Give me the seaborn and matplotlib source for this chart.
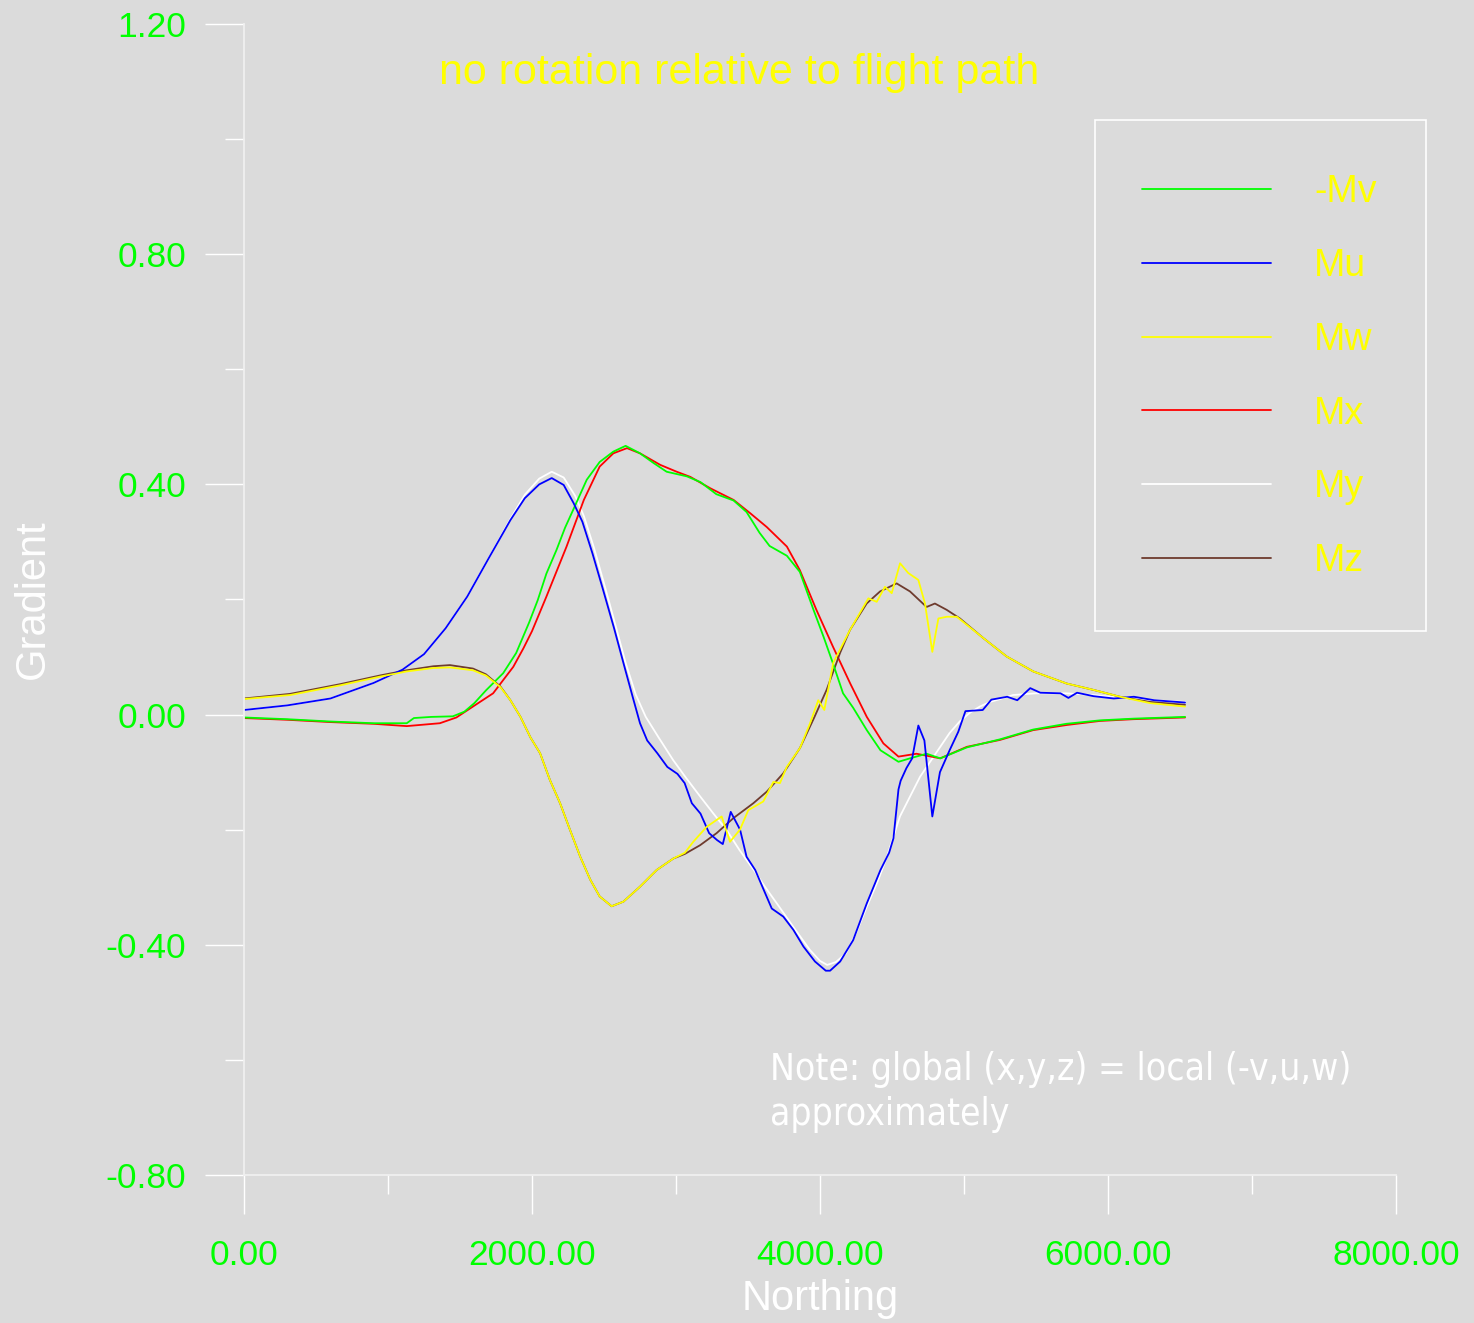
import matplotlib
matplotlib.use("Agg")
import matplotlib.pyplot as plt
from matplotlib.patches import Rectangle
from matplotlib.ticker import MultipleLocator, FormatStrFormatter
import pandas as pd
import seaborn as sns

# ---- gradient components along the flight line (Northing in m) ----
northing_mu = [0, 300, 600, 900, 1100, 1250, 1400, 1550, 1700, 1850, 1950, 2050, 2137,
               2220, 2290, 2350, 2420, 2490, 2570, 2640, 2700, 2750, 2800, 2870, 2940,
               3010, 3060, 3110, 3170, 3230, 3285, 3325, 3380, 3445, 3490, 3550, 3610,
               3665, 3745, 3815, 3885, 3965, 4040, 4070, 4140, 4230, 4325, 4420, 4480,
               4510, 4545, 4560, 4600, 4640, 4683, 4725, 4780, 4833, 4900, 4960, 5010,
               5130, 5190, 5300, 5370, 5460, 5530, 5670, 5725, 5785, 5900, 6040, 6180,
               6320, 6535]
mu = [0.008, 0.016, 0.028, 0.055, 0.078, 0.105, 0.150, 0.205, 0.272, 0.338, 0.376, 0.400,
      0.411, 0.399, 0.367, 0.335, 0.280, 0.220, 0.150, 0.085, 0.030, -0.015, -0.045,
      -0.067, -0.091, -0.103, -0.119, -0.154, -0.172, -0.206, -0.218, -0.225, -0.169,
      -0.200, -0.247, -0.270, -0.305, -0.337, -0.351, -0.374, -0.403, -0.429, -0.445,
      -0.445, -0.429, -0.392, -0.328, -0.270, -0.240, -0.215, -0.130, -0.115, -0.093,
      -0.076, -0.019, -0.045, -0.177, -0.100, -0.062, -0.030, 0.006, 0.008, 0.026,
      0.031, 0.025, 0.046, 0.038, 0.037, 0.029, 0.038, 0.032, 0.028, 0.031, 0.025, 0.021]

northing_my = [0, 300, 600, 900, 1100, 1250, 1400, 1550, 1700, 1850, 1950, 2050, 2137,
               2220, 2300, 2360, 2430, 2500, 2580, 2650, 2720, 2790, 2880, 2980, 3070,
               3170, 3260, 3350, 3440, 3540, 3620, 3700, 3815, 3930, 4000, 4050, 4110,
               4180, 4250, 4325, 4400, 4465, 4555, 4630, 4695, 4770, 4835, 4900, 4970,
               5040, 5110, 5180, 5250, 5340, 5500, 5710, 5900, 6100, 6300, 6535]
my = [0.008, 0.016, 0.028, 0.055, 0.078, 0.105, 0.150, 0.205, 0.272, 0.340, 0.382, 0.410,
      0.422, 0.412, 0.380, 0.345, 0.290, 0.228, 0.155, 0.090, 0.035, -0.004, -0.040,
      -0.079, -0.110, -0.143, -0.172, -0.200, -0.235, -0.270, -0.300, -0.328, -0.369,
      -0.409, -0.428, -0.435, -0.430, -0.415, -0.380, -0.334, -0.290, -0.247, -0.177,
      -0.140, -0.108, -0.080, -0.056, -0.032, -0.012, 0.003, 0.014, 0.022, 0.027, 0.034,
      0.037, 0.037, 0.034, 0.029, 0.025, 0.022]

northing_mv = [0, 300, 600, 900, 1130, 1180, 1300, 1450, 1530, 1600, 1680, 1800, 1890,
               1980, 2040, 2100, 2170, 2230, 2290, 2380, 2470, 2565, 2650, 2750, 2845,
               2935, 3075, 3170, 3280, 3400, 3490, 3580, 3650, 3770, 3860, 3955, 4025,
               4090, 4160, 4230, 4325, 4420, 4545, 4625, 4740, 4835, 5020, 5250, 5480,
               5710, 5945, 6180, 6535]
minus_mv = [-0.005, -0.008, -0.012, -0.015, -0.015, -0.006, -0.004, -0.003, 0.005, 0.020,
            0.042, 0.072, 0.107, 0.160, 0.199, 0.245, 0.286, 0.325, 0.358, 0.408, 0.439,
            0.457, 0.467, 0.454, 0.437, 0.422, 0.414, 0.404, 0.383, 0.372, 0.352, 0.316,
            0.293, 0.276, 0.248, 0.182, 0.135, 0.089, 0.037, 0.012, -0.027, -0.062,
            -0.082, -0.076, -0.068, -0.076, -0.057, -0.043, -0.026, -0.016, -0.010,
            -0.007, -0.004]

northing_mx = [0, 300, 600, 900, 1130, 1360, 1475, 1590, 1730, 1870, 1940, 2000, 2100,
               2240, 2360, 2470, 2565, 2660, 2750, 2890, 3005, 3100, 3240, 3400, 3515,
               3630, 3770, 3860, 3975, 4090, 4210, 4325, 4440, 4545, 4670, 4835, 5020,
               5250, 5480, 5715, 5945, 6175, 6535]
mx = [-0.006, -0.009, -0.013, -0.016, -0.020, -0.015, -0.005, 0.014, 0.037, 0.083, 0.115,
      0.145, 0.205, 0.292, 0.373, 0.431, 0.454, 0.463, 0.454, 0.434, 0.422, 0.413, 0.393,
      0.373, 0.350, 0.326, 0.292, 0.251, 0.182, 0.118, 0.054, -0.004, -0.050, -0.073,
      -0.068, -0.076, -0.056, -0.044, -0.027, -0.018, -0.011, -0.008, -0.005]

northing_mw = [0, 320, 670, 945, 1130, 1315, 1430, 1590, 1680, 1780, 1850, 1920, 1990,
               2056, 2125, 2195, 2265, 2335, 2405, 2470, 2553, 2635, 2750, 2866, 2982,
               3062, 3120, 3213, 3317, 3375, 3444, 3502, 3606, 3676, 3722, 3769, 3861,
               3931, 3988, 4030, 4092, 4208, 4336, 4394, 4451, 4498, 4556, 4613, 4683,
               4729, 4780, 4822, 4880, 4950, 5134, 5296, 5481, 5713, 5898, 6083, 6292,
               6535]
mw = [0.027, 0.034, 0.051, 0.066, 0.075, 0.081, 0.082, 0.077, 0.068, 0.048, 0.025, -0.004,
      -0.040, -0.067, -0.114, -0.154, -0.201, -0.247, -0.287, -0.316, -0.333, -0.325,
      -0.299, -0.270, -0.250, -0.240, -0.221, -0.195, -0.177, -0.221, -0.200, -0.166,
      -0.151, -0.117, -0.119, -0.091, -0.058, -0.015, 0.025, 0.008, 0.090, 0.147, 0.202,
      0.196, 0.222, 0.211, 0.263, 0.246, 0.234, 0.193, 0.109, 0.167, 0.170, 0.170, 0.133,
      0.101, 0.075, 0.054, 0.043, 0.031, 0.020, 0.014]

northing_mz = [0, 320, 670, 945, 1130, 1315, 1430, 1590, 1680, 1780, 1850, 1920, 1990,
               2056, 2125, 2195, 2265, 2335, 2405, 2470, 2553, 2635, 2750, 2866, 2982,
               3062, 3167, 3282, 3398, 3537, 3630, 3745, 3861, 3960, 4046, 4139, 4208,
               4324, 4417, 4532, 4625, 4740, 4798, 4880, 4972, 5134, 5296, 5481, 5713,
               5898, 6083, 6292, 6535]
mz = [0.028, 0.036, 0.053, 0.068, 0.077, 0.084, 0.086, 0.080, 0.070, 0.049, 0.025, -0.004,
      -0.040, -0.067, -0.114, -0.154, -0.201, -0.247, -0.287, -0.316, -0.333, -0.325,
      -0.299, -0.270, -0.250, -0.242, -0.227, -0.206, -0.180, -0.154, -0.134, -0.102,
      -0.058, -0.005, 0.043, 0.107, 0.147, 0.193, 0.214, 0.228, 0.214, 0.187, 0.193,
      0.182, 0.167, 0.133, 0.101, 0.075, 0.054, 0.043, 0.031, 0.022, 0.017]

legend_order = ["-Mv", "Mu", "Mw", "Mx", "My", "Mz"]
x_ticks = [0, 2000, 4000, 6000, 8000]
y_ticks = [-0.80, -0.40, 0.00, 0.40, 0.80, 1.20]

BG = "#dbdbdb"
TICK_GREEN = "#00ff00"
palette = {"-Mv": "#00ff00", "Mu": "#0000ff", "Mw": "#ffff00",
           "Mx": "#ff0000", "My": "#ffffff", "Mz": "#6e3b2e"}

series = {"-Mv": (northing_mv, minus_mv), "Mu": (northing_mu, mu),
          "Mw": (northing_mw, mw), "Mx": (northing_mx, mx),
          "My": (northing_my, my), "Mz": (northing_mz, mz)}
df = pd.concat(
    [pd.DataFrame({"Northing": x, "Gradient": y, "component": name})
     for name, (x, y) in series.items()],
    ignore_index=True)

sns.set_style("white", {"axes.facecolor": BG, "figure.facecolor": BG,
                        "xtick.bottom": True, "ytick.left": True})
plt.rcParams["font.family"] = ["Liberation Sans", "DejaVu Sans"]

fig = plt.figure(figsize=(14.74, 13.23), dpi=100, facecolor=BG)
ax = fig.add_axes([244 / 1474, 1 - 1175 / 1323, 1152 / 1474, 1151 / 1323])
ax.set_facecolor(BG)

draw_order = ["My", "Mx", "Mz", "-Mv", "Mu", "Mw"]
for name in draw_order:
    sns.lineplot(data=df[df["component"] == name], x="Northing", y="Gradient",
                 color=palette[name], linewidth=1.3, sort=False, estimator=None,
                 label=name, ax=ax)

ax.set_xlim(0, 8000)
ax.set_ylim(-0.8, 1.2)
ax.set_xticks(x_ticks)
ax.set_yticks(y_ticks)
ax.xaxis.set_minor_locator(MultipleLocator(1000))
ax.yaxis.set_minor_locator(MultipleLocator(0.2))
ax.xaxis.set_major_formatter(FormatStrFormatter("%.2f"))
ax.yaxis.set_major_formatter(FormatStrFormatter("%.2f"))

for side in ("top", "right"):
    ax.spines[side].set_visible(False)
for side in ("left", "bottom"):
    ax.spines[side].set_color("#f0f0f0")
    ax.spines[side].set_linewidth(1.3)

ax.tick_params(which="both", bottom=True, left=True, top=False, right=False,
               direction="out", color="white", width=1,
               labelcolor=TICK_GREEN, labelsize=25.5)
ax.tick_params(which="major", length=28)
ax.tick_params(which="minor", length=14)
ax.tick_params(axis="y", which="major", pad=13.5)
ax.tick_params(axis="x", which="major", pad=18)

ax.set_xlabel("Northing", color="white", fontsize=30, labelpad=5)
ax.set_ylabel("Gradient", color="white", fontsize=30, labelpad=38)

ax.text(0.4297, 0.9574, "no rotation relative to flight path", color="#ffff00",
        fontsize=31, ha="center", va="center", transform=ax.transAxes)
ax.text(0.4566, 0.108, "Note: global (x,y,z) = local (-v,u,w)\napproximately",
        color="white", fontsize=26.7, ha="left", va="top", linespacing=1.29,
        family="DejaVu Sans", fontstretch="condensed", transform=ax.transAxes)

handles, labels = ax.get_legend_handles_labels()
lookup = dict(zip(labels, handles))
leg = ax.legend([lookup[n] for n in legend_order], legend_order,
                loc="upper right", bbox_to_anchor=(1.030, 0.9166), borderaxespad=0,
                fontsize=27, handlelength=3.44, handletextpad=1.15, labelspacing=1.01,
                borderpad=1.44, frameon=False)
for t in leg.get_texts():
    t.set_color("#ffff00")

# legend frame
fig.patches.append(Rectangle((1095 / 1474, 1 - 631 / 1323), 331 / 1474, 511 / 1323,
                             transform=fig.transFigure, facecolor="none",
                             edgecolor="white", linewidth=1.2, zorder=5))

fig.savefig("out.png", dpi=100, facecolor=BG)
